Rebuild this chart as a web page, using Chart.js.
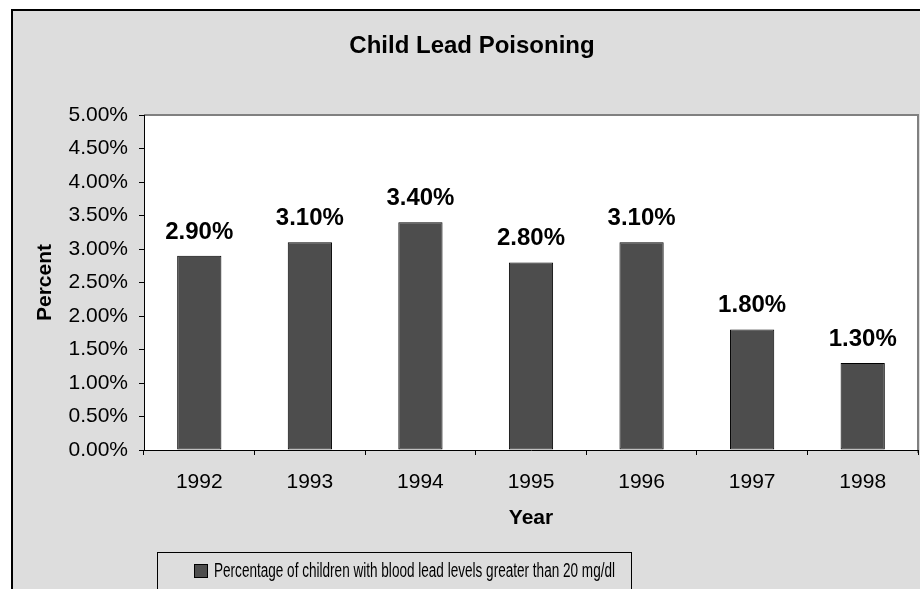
<!DOCTYPE html>
<html>
<head>
<meta charset="utf-8">
<script src="https://cdn.jsdelivr.net/npm/chart.js@4.4.0/dist/chart.umd.min.js"></script>
<style>
    html, body { margin: 0; padding: 0; background: #fff; }
    #wrap { width: 920px; height: 589px; }
</style>
</head>
<body>
<div id="wrap"><canvas id="leadChart" width="920" height="589"></canvas></div>
<script>
// ===============================
// Data
// ===============================

const chartTitle = "Child Lead Poisoning";
const seriesName = "Percentage of children with blood lead levels greater than 20 mg/dl";
const years = ["1992", "1993", "1994", "1995", "1996", "1997", "1998"];
const leadPercent = [2.9, 3.1, 3.4, 2.8, 3.1, 1.8, 1.3];
const yMin = 0;
const yMax = 5;
const yStep = 0.5;

const FONT = 'Arial, "Liberation Sans", sans-serif';
const BAR_COLOR = "#4d4d4d";
const PANEL_GRAY = "#dddddd";

// ===============================
// Plugins: background, labels, legend
// ===============================

const backdrop = {
    id: "backdrop",
    beforeDraw(chart) {
        const ctx = chart.ctx;
        const a = chart.chartArea;
        ctx.save();
        ctx.fillStyle = "#fff";
        ctx.fillRect(0, 0, chart.width, chart.height);
        ctx.fillStyle = PANEL_GRAY;
        ctx.fillRect(12, 10, chart.width, chart.height);
        ctx.strokeStyle = "#000";
        ctx.lineWidth = 2;
        ctx.beginPath();
        ctx.moveTo(12, chart.height + 5);
        ctx.lineTo(12, 10);
        ctx.lineTo(chart.width + 5, 10);
        ctx.stroke();

        // plot area
        ctx.fillStyle = "#fff";
        ctx.fillRect(a.left, a.top, a.right - a.left, a.bottom - a.top);
        ctx.strokeStyle = "#808080";
        ctx.lineWidth = 2;
        ctx.beginPath();
        ctx.moveTo(a.left, a.top);
        ctx.lineTo(a.right, a.top);
        ctx.lineTo(a.right, a.bottom + 3);
        ctx.stroke();
        ctx.restore();
    }
};

const barValues = {
    id: "barValues",
    afterDatasetsDraw(chart) {
        const ctx = chart.ctx;
        const meta = chart.getDatasetMeta(0);
        ctx.save();
        ctx.fillStyle = "#000";
        ctx.font = "bold 24px " + FONT;
        ctx.textAlign = "center";
        ctx.textBaseline = "alphabetic";
        meta.data.forEach(function(bar, i){
            const v = chart.data.datasets[0].data[i];
            ctx.fillText(v.toFixed(2) + "%", bar.x, bar.y - 17);
        });
        ctx.restore();
    }
};

const titleAndLegend = {
    id: "titleAndLegend",
    afterDraw(chart) {
        const ctx = chart.ctx;
        ctx.save();

        // title
        ctx.fillStyle = "#000";
        ctx.font = "bold 24px " + FONT;
        ctx.textAlign = "center";
        ctx.textBaseline = "alphabetic";
        ctx.fillText(chartTitle, 472, 53);

        // legend box
        ctx.strokeStyle = "#000";
        ctx.lineWidth = 1;
        ctx.strokeRect(157.5, 552.5, 474, 60);

        ctx.fillStyle = chart.data.datasets[0].backgroundColor;
        ctx.fillRect(194, 564, 13, 13);
        ctx.strokeRect(194.5, 564.5, 13, 13);

        // legend text is drawn condensed, like the original
        ctx.fillStyle = "#000";
        ctx.font = "20px " + FONT;
        ctx.textAlign = "left";
        const w = ctx.measureText(seriesName).width;
        const target = 401;
        ctx.translate(214, 577);
        ctx.scale(target / w, 1);
        ctx.fillText(seriesName, 0, 0);

        ctx.restore();
    }
};

// ===============================
// Chart
// ===============================

const canvas = document.getElementById("leadChart");

new Chart(canvas, {

    type: "bar",

    data: {
        labels: years,
        datasets: [{
            label: seriesName,
            data: leadPercent,
            backgroundColor: BAR_COLOR,
            borderColor: "#000",
            borderWidth: 1,
            borderSkipped: false,
            categoryPercentage: 1,
            barPercentage: 0.4
        }]
    },

    options: {
        responsive: false,
        animation: false,
        devicePixelRatio: 1,
        layout: {
            padding: { left: 0, top: 115, right: 2, bottom: 54 }
        },
        plugins: {
            legend: { display: false },
            title: { display: false },
            tooltip: { enabled: false }
        },
        scales: {
            x: {
                afterFit: function(scale){ scale.height = 85; },
                grid: {
                    offset: true,
                    drawOnChartArea: false,
                    tickLength: 5,
                    color: "#000"
                },
                border: { display: true, color: "#000", width: 1 },
                ticks: {
                    color: "#000",
                    padding: 15,
                    font: { family: FONT, size: 21 }
                },
                title: {
                    display: true,
                    text: "Year",
                    color: "#000",
                    padding: { top: 0, bottom: 4 },
                    font: { family: FONT, size: 21, weight: "bold" }
                }
            },
            y: {
                min: yMin,
                max: yMax,
                afterFit: function(scale){ scale.width = 144; },
                grid: {
                    drawOnChartArea: false,
                    tickLength: 5,
                    color: "#000"
                },
                border: { display: true, color: "#000", width: 1 },
                ticks: {
                    stepSize: yStep,
                    color: "#000",
                    padding: 11,
                    font: { family: FONT, size: 21 },
                    callback: function(v){ return v.toFixed(2) + "%"; }
                },
                title: {
                    display: true,
                    text: "Percent",
                    color: "#000",
                    padding: { top: 33, bottom: 0 },
                    font: { family: FONT, size: 21, weight: "bold" }
                }
            }
        }
    },

    plugins: [backdrop, barValues, titleAndLegend]

});
</script>
</body>
</html>
